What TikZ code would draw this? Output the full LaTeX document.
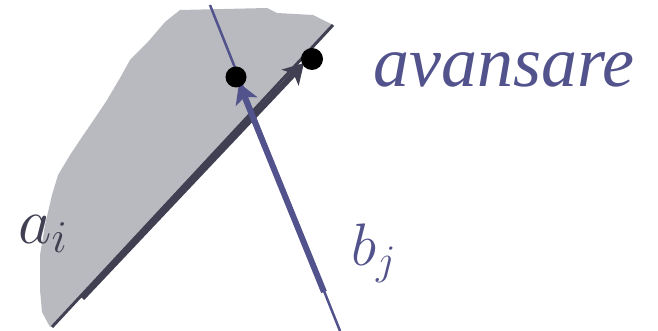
\documentclass[tikz,border=0pt]{standalone}
\usepackage{fix-cm}
\usepackage{fontspec}
\newfontfamily\timesit{Liberation Serif Italic}
\usetikzlibrary{arrows.meta}
\definecolor{bblue}{RGB}{82,82,140}
\definecolor{adark}{RGB}{64,64,82}
\definecolor{pgray}{RGB}{185,186,191}
\tikzset{
  thinline/.style={line width=#1},
  bigarrow/.style={line width=6pt,-{Stealth[length=20pt,width=23pt,inset=5pt]}},
  dot/.style={circle,fill=black,inner sep=0pt,minimum size=#1}
}
\begin{document}
\begin{tikzpicture}[x=1pt,y=-1pt]
\useasboundingbox (0,0) rectangle (658,331);
% polygon
\fill[pgray] (50,327) -- (42,312) -- (40,290) -- (40,255) -- (45,225) -- (52,195)
  -- (58,175) -- (70,155) -- (80,140) -- (95,118) -- (107,100) -- (120,78) -- (130,60)
  -- (147,43) -- (165,22) -- (180,10) -- (267,8) -- (277,13) -- (313,15) -- (333,25) -- cycle;
% coordinates
\coordinate (aS) at (52,327);
\coordinate (aE) at (333,25);
\coordinate (bS) at (210,5);
\coordinate (bE) at (340,331);
\coordinate (aAs) at (82,298);
\coordinate (aAe) at (304,63);
\coordinate (bAs) at (324,292);
\coordinate (bAe) at (239,83);
% edge lines
\draw[adark,thinline=3pt] (aS) -- (aE);
\draw[bblue,thinline=2.5pt] (bS) -- (bE);
% arrows
\draw[adark,bigarrow] (aAs) -- (aAe);
\draw[bblue,bigarrow] (bAs) -- (bAe);
% dots
\node[dot=21pt] (p1) at (236,77) {};
\node[dot=22pt] (p2) at (312,59) {};
% labels
\node[anchor=base west,inner sep=0pt,text=bblue,font={\timesit\fontsize{72}{72}\selectfont}] (av) at (373,87) {avansare};
\node[anchor=base west,inner sep=0pt,text=adark,font={\fontsize{65}{65}\selectfont}] (ai) at (18,243) {$a_i$};
\node[anchor=base west,inner sep=0pt,text=bblue,font={\fontsize{60}{60}\selectfont}] (bj) at (351,265) {$b_j$};
\end{tikzpicture}
\end{document}
